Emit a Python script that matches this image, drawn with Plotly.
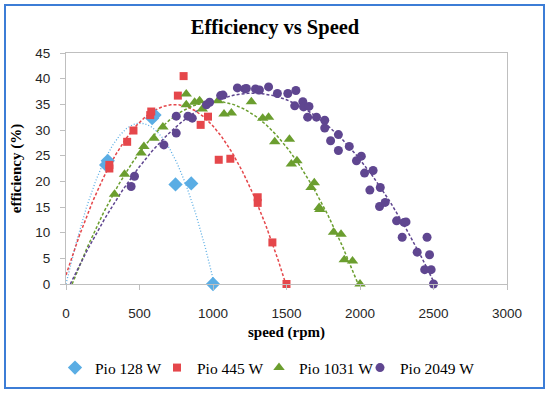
import numpy as np
import plotly.graph_objects as go

# ---- data ----
pio128_speed = [273, 284, 586, 602, 745, 852, 1000]
pio128_eff = [23.2, 24.0, 32.3, 32.9, 19.4, 19.6, 0.0]

pio445_speed = [295, 295, 416, 459, 573, 580, 761, 800, 916, 966, 1039, 1118, 1304, 1304, 1404, 1500]
pio445_eff = [22.5, 23.2, 27.7, 29.9, 32.9, 33.6, 36.7, 40.5, 31.0, 32.6, 24.2, 24.4, 16.9, 15.8, 8.1, 0.0]

pio1031_speed = [330, 398, 511, 530, 598, 659, 818, 818, 875, 909, 927, 1034, 1075, 1125, 1261,
                 1338, 1378, 1420, 1520, 1533, 1571, 1667, 1689, 1722, 1727, 1820, 1871, 1893, 1949, 2000]
pio1031_eff = [17.5, 21.4, 25.5, 26.8, 28.4, 30.6, 37.0, 34.9, 35.4, 35.7, 34.1, 35.7, 33.1, 33.3, 35.5,
               32.3, 32.5, 27.7, 28.2, 23.4, 24.0, 18.8, 19.7, 14.9, 14.5, 10.1, 9.7, 4.7, 4.5, 0.0]

pio2049_speed = [443, 466, 666, 750, 750, 830, 859, 955, 977, 1052, 1068, 1166, 1216, 1227, 1289, 1316,
                 1378, 1438, 1509, 1564, 1556, 1611, 1616, 1653, 1644, 1704, 1760, 1760, 1853, 1800,
                 1853, 1927, 1976, 2009, 2031, 2089, 2067, 2138, 2133, 2171, 2249, 2300, 2287, 2313,
                 2389, 2456, 2473, 2440, 2484, 2500]
pio2049_eff = [19.0, 21.0, 27.1, 29.4, 32.7, 32.7, 32.3, 34.9, 35.4, 36.7, 36.8, 38.2, 38.0, 38.1, 38.0, 37.8,
               38.4, 37.1, 37.1, 37.7, 34.7, 35.5, 34.5, 34.6, 32.5, 32.5, 31.9, 30.4, 29.1, 27.9,
               26.0, 26.8, 24.0, 24.9, 21.6, 22.1, 18.3, 18.8, 15.1, 15.9, 12.3, 12.0, 9.1, 12.1,
               6.2, 9.1, 5.7, 2.8, 2.8, 0.0]

series_names = ["Pio 128 W", "Pio 445 W", "Pio 1031 W", "Pio 2049 W"]
x_ticks = [0, 500, 1000, 1500, 2000, 2500, 3000]
y_ticks = [0, 5, 10, 15, 20, 25, 30, 35, 40, 45]

# name, x, y, colour, symbol, size, trend dash, trend width, trend through origin
series = [
    (series_names[0], pio128_speed, pio128_eff, "#5AADE4", "diamond", 11, "1px,2px", 1.3, True),
    (series_names[1], pio445_speed, pio445_eff, "#E5474B", "square", 8, "3px,2px", 1.5, False),
    (series_names[2], pio1031_speed, pio1031_eff, "#6B9E2F", "triangle-up", 10, "3px,2px", 1.5, False),
    (series_names[3], pio2049_speed, pio2049_eff, "#5F4690", "circle", 9, "3px,2px", 1.5, False),
]

fig = go.Figure()

# polynomial (order 2) trendlines fitted to each series
for name, xs, ys, col, sym, size, dash, lw, origin in series:
    xs = np.array(xs, dtype=float)
    ys = np.array(ys, dtype=float)
    if origin:
        A = np.vstack([xs ** 2, xs]).T
        c2, c1 = np.linalg.lstsq(A, ys, rcond=None)[0]
        coef = np.array([c2, c1, 0.0])
    else:
        coef = np.polyfit(xs, ys, 2)
    roots = np.roots(coef)
    real = [r.real for r in roots if abs(r.imag) < 1e-9 and r.real < xs.min()]
    start = max(0.0, max(real)) if real else 0.0
    xf = np.linspace(start, xs.max(), 300)
    yf = np.polyval(coef, xf)
    fig.add_trace(go.Scatter(x=xf, y=yf, mode="lines", showlegend=False, hoverinfo="skip",
                             line=dict(color=col, width=lw, dash=dash)))

legend_ids = ["legend", "legend2", "legend3", "legend4"]
for (name, xs, ys, col, sym, size, dash, lw, origin), lid in zip(series, legend_ids):
    fig.add_trace(go.Scatter(x=xs, y=ys, mode="markers", name=name, cliponaxis=False, legend=lid,
                             marker=dict(symbol=sym, size=size, color=col, line=dict(width=0))))

axis_common = dict(showgrid=False, zeroline=False, showline=True, linecolor="#BFBFBF", linewidth=1,
                   mirror=True, ticks="outside", tickcolor="#BFBFBF", ticklen=5, automargin=False,
                   tickfont=dict(family="Liberation Sans", size=13.5, color="#262626"))

L, R, T, B = 66, 43, 53, 110
PW, PH = 550 - L - R, 394 - T - B
W, H = 550, 394

legend_left_px = [55, 157, 259, 360]
legend_layout = {}
for lid, lx in zip(legend_ids, legend_left_px):
    legend_layout[lid] = dict(orientation="h", xref="container", yref="container",
                              x=lx / W, xanchor="left", y=1 - 368 / H, yanchor="middle",
                              font=dict(family="Liberation Serif", size=15.5, color="black"),
                              itemwidth=30, bgcolor="rgba(0,0,0,0)")

fig.update_layout(
    width=W, height=H,
    margin=dict(l=L, r=R, t=T, b=B),
    paper_bgcolor="white", plot_bgcolor="white",
    title=dict(text="<b>Efficiency vs Speed</b>", x=0.5, xanchor="center", xref="container",
               y=1 - 27 / H, yanchor="middle", yref="container",
               font=dict(family="Liberation Serif", size=20.5, color="black")),
    xaxis=dict(range=[0, 3000], tickvals=x_ticks, ticklabelstandoff=12,
               title=dict(text="<b>speed (rpm)</b>", standoff=6,
                          font=dict(family="Liberation Serif", size=15, color="black")),
               **axis_common),
    yaxis=dict(range=[0, 45], tickvals=y_ticks, ticklabelstandoff=7,
               title=dict(text="<b>efficiency (%)</b>", standoff=10,
                          font=dict(family="Liberation Serif", size=15, color="black")),
               **axis_common),
    shapes=[dict(type="rect", xref="paper", yref="paper",
                 x0=(5 - L) / PW, x1=(544 - L) / PW,
                 y0=(284 - 388) / PH, y1=(284 - 5) / PH,
                 line=dict(color="#3C7DD6", width=2), fillcolor="rgba(0,0,0,0)", layer="below")],
    **legend_layout,
)

fig.write_html("out.html", config={"displayModeBar": False},
               post_script="document.body.style.margin='0';")
